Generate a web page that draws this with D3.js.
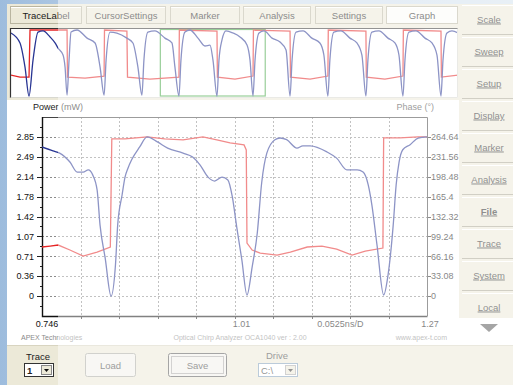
<!DOCTYPE html>
<html><head><meta charset="utf-8">
<script src="https://cdn.jsdelivr.net/npm/d3@7"></script>
<style>
html,body{margin:0;padding:0;overflow:hidden;background:#c5d9ec;}
svg{display:block;font-family:"Liberation Sans",Arial,sans-serif;}
</style></head><body>
<svg id="c" width="513" height="385"></svg>
<script>
// ---------- data ----------
const tabLabels = ["TraceLabel","CursorSettings","Marker","Analysis","Settings","Graph"];
const sideButtons = ["Scale","Sweep","Setup","Display","Marker","Analysis","File","Trace","System","Local"];
const powerTicks = [0,0.36,0.71,1.07,1.42,1.78,2.14,2.49,2.85];
const phaseTicks = ["0","33.08","66.16","99.24","132.32","165.4","198.48","231.56","264.64"];
const timeStart = 0.746, timeEnd = 1.27, timeMid = "1.01", timePerDiv = "0.0525ns/D";
const timeDivisions = 10;

const mainTime = [.746,.761,.770,.784,.794,.802,.809,.815,.821,.825,.832,.840,.846,.849,.855,.859,.863,.868,.879,.889,.903,.917,.938,.951,.961,.972,.981,.991,.999,1.005,1.011,1.018,1.025,1.032,1.039,1.045,1.052,1.063,1.070,1.079,1.093,1.101,1.111,1.134,1.147,1.161,1.175,1.183,1.190,1.195,1.202,1.211,1.217,1.224,1.228,1.232,1.237,1.247,1.258,1.270];
const mainPower = [2.67,2.60,2.56,2.40,2.22,2.22,2.26,2.17,1.90,1.27,0.68,0.00,0.56,1.27,1.81,2.13,2.29,2.44,2.67,2.85,2.76,2.65,2.56,2.49,2.35,2.13,2.06,2.13,2.08,1.78,1.24,0.65,0.02,0.52,1.13,2.03,2.56,2.80,2.83,2.80,2.65,2.69,2.69,2.58,2.47,2.26,2.26,2.22,1.99,1.63,0.91,0.02,0.38,1.27,1.99,2.40,2.62,2.71,2.83,2.85];
const phaseTime = [.746,.757,.768,.784,.802,.821,.839,.841,.859,.889,.913,.938,.965,.984,1.002,1.021,1.024,1.025,1.032,1.043,1.066,1.084,1.107,1.127,1.147,1.168,1.186,1.210,1.211,1.233,1.258,1.270];
const mainPhase = [81.6,83.2,84.9,76.6,66.6,73.2,81.6,261.3,261.3,264.6,261.3,259.6,264.6,259.6,254.7,251.3,243.0,88.2,76.6,71.6,68.2,73.2,81.6,83.2,78.2,68.2,74.9,79.9,263.0,263.0,264.6,264.6];

const ovTimeEnd = 2.233;
const ovTime = [0.000,0.045,0.070,0.090,0.110,0.135,0.160,0.195,0.220,0.235,0.260,0.270,0.280,0.290,0.300,0.330,0.380,0.420,0.445,0.465,0.475,0.495,0.529,0.579,0.609,0.634,0.654,0.664,0.684,0.719,0.769,0.804,0.819,0.839,0.849,0.869,0.894,0.934,0.969,0.994,1.009,1.029,1.039,1.054,1.074,1.109,1.144,1.179,1.194,1.209,1.219,1.239,1.264,1.304,1.344,1.374,1.394,1.404,1.424,1.459,1.503,1.543,1.563,1.583,1.593,1.613,1.648,1.693,1.728,1.753,1.773,1.783,1.803,1.838,1.883,1.918,1.938,1.958,1.968,1.988,2.023,2.068,2.103,2.128,2.148,2.158,2.178,2.203,2.233];
const ovPower = [2.72,2.29,1.25,0.00,1.55,2.76,2.81,2.55,2.29,2.07,1.77,1.25,0.04,1.55,2.76,2.85,2.50,2.29,1.25,0.04,1.55,2.76,2.72,2.50,2.29,1.25,0.04,1.55,2.76,2.81,2.50,2.29,1.25,0.00,1.55,2.76,2.85,2.50,2.16,2.20,1.55,0.00,1.55,2.42,2.81,2.72,2.55,2.20,1.55,0.00,1.55,2.72,2.81,2.50,2.33,1.99,0.00,1.55,2.76,2.81,2.50,2.29,1.77,0.00,1.55,2.76,2.81,2.50,2.29,1.77,0.00,1.55,2.76,2.81,2.50,2.29,1.77,0.00,1.55,2.76,2.81,2.50,2.29,1.77,0.00,1.55,2.72,2.81,2.72];
const ovPhaseTime = [0.000,0.045,0.090,0.095,0.280,0.282,0.370,0.465,0.467,0.579,0.582,0.694,0.839,0.841,1.029,1.031,1.119,1.209,1.211,1.394,1.396,1.494,1.583,1.585,1.773,1.775,1.868,1.958,1.960,2.148,2.150,2.233];
const ovPhase = [84,76,76,264.6,264.6,76,72,80,264.6,260,76,68,76,264.6,260,76,68,80,264.6,260,76,68,80,264.6,260,76,68,80,264.6,260,76,84];

// ---------- drawing ----------
const W = 513, H = 385;
const svg = d3.select("#c");
const defs = svg.append("defs");
const bg = defs.append("linearGradient").attr("id","bg").attr("x1",0).attr("x2",1).attr("y1",0).attr("y2",0);
bg.append("stop").attr("offset","0").attr("stop-color","#9dbcdd");
bg.append("stop").attr("offset","0.3").attr("stop-color","#c3d6ea");
bg.append("stop").attr("offset","1").attr("stop-color","#d4e2ef");
svg.append("rect").attr("width",W).attr("height",H).attr("fill","url(#bg)");

// window body
svg.append("rect").attr("x",7).attr("y",4).attr("width",W-7).attr("height",H-4).attr("fill","#ece9d8");

// tabs
const tabX = [10,86,170,243,315,386], tabW = [72,80,70,68,68,72];
const tabs = svg.append("g").selectAll("g").data(tabLabels).join("g");
tabs.append("rect").attr("x",(d,i)=>tabX[i]+0.5).attr("y",6.5).attr("width",(d,i)=>tabW[i]-1).attr("height",17)
  .attr("fill",(d,i)=> i===5 ? "#fbfbf7" : "#ece9d8").attr("stroke","#b9b5a0");
tabs.append("line").attr("x1",(d,i)=>tabX[i]+1).attr("x2",(d,i)=>tabX[i]+tabW[i]-1).attr("y1",7.5).attr("y2",7.5).attr("stroke","#fff");
tabs.append("text").attr("x",(d,i)=>tabX[i]+tabW[i]/2).attr("y",18.5).attr("text-anchor","middle")
  .attr("font-size",9.5).attr("fill","#1a1a1a").text(d=>d);

// side buttons
const side = svg.append("g").selectAll("g").data(sideButtons).join("g");
side.append("rect").attr("x",462).attr("y",(d,i)=>5+32*i).attr("width",54).attr("height",29).attr("fill","#ece9d8");
side.append("line").attr("x1",462).attr("x2",513).attr("y1",(d,i)=>34.5+32*i).attr("y2",(d,i)=>34.5+32*i).attr("stroke","#a9a592");
side.append("line").attr("x1",462).attr("x2",513).attr("y1",(d,i)=>5.5+32*i).attr("y2",(d,i)=>5.5+32*i).attr("stroke","#ffffff");
side.append("text").attr("x",489).attr("y",(d,i)=>22.5+32*i).attr("text-anchor","middle").attr("font-size",9.5)
  .attr("fill","#2a2a2a").attr("font-weight",d=>d==="File"?"bold":"normal").attr("text-decoration","underline").text(d=>d);

// overview panel
const ov = {x0:10, y0:28, x1:458, y1:98};
svg.append("rect").attr("x",ov.x0).attr("y",ov.y0).attr("width",ov.x1-ov.x0).attr("height",ov.y1-ov.y0).attr("fill","#fff");
const ox = d3.scaleLinear().domain([0,ovTimeEnd]).range([11,458]);
const oyP = d3.scaleLinear().domain([0,2.85]).range([96,30]);
const oyF = d3.scaleLinear().domain([0,264.64]).range([96,30]);
defs.append("clipPath").attr("id","ovclip").append("rect").attr("x",ov.x0+1).attr("y",ov.y0+1).attr("width",ov.x1-ov.x0-1).attr("height",ov.y1-ov.y0-1);
const og = svg.append("g").attr("clip-path","url(#ovclip)");
og.append("rect").attr("x",ox(timeStart)).attr("y",29.5).attr("width",ox(timeEnd)-ox(timeStart)).attr("height",66.5)
  .attr("fill","none").attr("stroke","#3ea33e").attr("stroke-width",1.2);
og.append("path").datum(d3.range(ovPhase.length)).attr("fill","none").attr("stroke","#e52424").attr("stroke-width",1.3)
  .attr("d",d3.line().x(i=>ox(ovPhaseTime[i])).y(i=>oyF(ovPhase[i])));
og.append("path").datum(d3.range(ovPower.length)).attr("fill","none").attr("stroke","#283593").attr("stroke-width",1.3)
  .attr("d",d3.line().curve(d3.curveMonotoneX).x(i=>ox(ovTime[i])).y(i=>oyP(ovPower[i])));
svg.append("path").attr("d",`M${ov.x0+0.5},${ov.y1}V${ov.y0+0.5}H${ov.x1}`).attr("fill","none").attr("stroke","#333").attr("stroke-width",1.2);
svg.append("path").attr("d",`M${ov.x0+0.5},${ov.y1-0.5}H${ov.x1-0.5}V${ov.y0+0.5}`).attr("fill","none").attr("stroke","#d8d8d0");

// main chart panel
svg.append("rect").attr("x",7).attr("y",100).attr("width",452).attr("height",245).attr("fill","#fff");
svg.append("rect").attr("x",459).attr("y",318).attr("width",54).attr("height",27).attr("fill","#fff");
const plot = {l:42, r:427, t:117, b:316};
const x = d3.scaleLinear().domain([timeStart,timeEnd]).range([plot.l,plot.r]);
const step = 2.85/8, pstep = 264.64/8;
const yP = d3.scaleLinear().domain([-step, 2.85+step]).range([plot.b,plot.t]);
const yF = d3.scaleLinear().domain([-pstep, 264.64+pstep]).range([plot.b,plot.t]);

// grid
const grid = svg.append("g").attr("stroke","#8c8c8c").attr("stroke-dasharray","2,2").attr("stroke-width",1);
const divTimes = d3.range(1,timeDivisions).map(k=>timeStart+k*(timeEnd-timeStart)/timeDivisions);
grid.selectAll("line.v").data(divTimes).join("line").attr("x1",d=>Math.round(x(d))+0.5).attr("x2",d=>Math.round(x(d))+0.5)
  .attr("y1",plot.t).attr("y2",plot.b);
grid.selectAll("line.h").data(d3.range(9)).join("line").attr("x1",plot.l).attr("x2",plot.r)
  .attr("y1",i=>Math.round(yP(i*step))+0.5).attr("y2",i=>Math.round(yP(i*step))+0.5);

// axes ticks
const ax = svg.append("g").attr("stroke","#222");
ax.selectAll("line.lt").data(d3.range(9)).join("line").attr("x1",plot.l-5).attr("x2",plot.l)
  .attr("y1",i=>Math.round(yP(i*step))+0.5).attr("y2",i=>Math.round(yP(i*step))+0.5);
ax.selectAll("line.lm").data(d3.range(-1,9)).join("line").attr("x1",plot.l-2).attr("x2",plot.l)
  .attr("y1",i=>Math.round(yP((i+0.5)*step))+0.5).attr("y2",i=>Math.round(yP((i+0.5)*step))+0.5);
ax.selectAll("line.rt").data(d3.range(9)).join("line").attr("x1",plot.r).attr("x2",plot.r+4)
  .attr("y1",i=>Math.round(yF(i*pstep))+0.5).attr("y2",i=>Math.round(yF(i*pstep))+0.5);
ax.selectAll("line.bt").data(divTimes).join("line").attr("x1",d=>Math.round(x(d))+0.5).attr("x2",d=>Math.round(x(d))+0.5)
  .attr("y1",plot.b).attr("y2",plot.b+3);

// frame
svg.append("path").attr("d",`M${plot.l},${plot.t+0.5}H${plot.r+0.5}V${plot.b}`).attr("fill","none").attr("stroke","#444");
svg.append("path").attr("d",`M${plot.l+0.5},${plot.t}V${plot.b+0.5}H${plot.r+0.5}`).attr("fill","none").attr("stroke","#111").attr("stroke-width",1.4);

// traces
defs.append("clipPath").attr("id","pclip").append("rect").attr("x",plot.l).attr("y",plot.t).attr("width",plot.r-plot.l).attr("height",plot.b-plot.t);
const pg = svg.append("g").attr("clip-path","url(#pclip)");
pg.append("path").datum(d3.range(mainPhase.length)).attr("fill","none").attr("stroke","#e52424").attr("stroke-width",1.3)
  .attr("d",d3.line().x(i=>x(phaseTime[i])).y(i=>yF(mainPhase[i])));
pg.append("path").datum(d3.range(mainPower.length)).attr("fill","none").attr("stroke","#283593").attr("stroke-width",1.3)
  .attr("d",d3.line().curve(d3.curveMonotoneX).x(i=>x(mainTime[i])).y(i=>yP(mainPower[i])));

// labels
const lab = svg.append("g").attr("font-size",9).attr("fill","#111");
lab.selectAll("text.l").data(powerTicks).join("text").attr("x",plot.l-8).attr("y",(d,i)=>yP(i*step)+3.2)
  .attr("text-anchor","end").text(d=>String(d));
lab.selectAll("text.r").data(phaseTicks).join("text").attr("x",plot.r+4).attr("y",(d,i)=>yF(i*pstep)+3.2)
  .attr("text-anchor","start").text(d=>d);
lab.append("text").attr("x",x(timeStart)+5).attr("y",327).attr("text-anchor","middle").text(String(timeStart));
lab.append("text").attr("x",x((timeStart+timeEnd)/2)+7).attr("y",327).attr("text-anchor","middle").text(timeMid);
lab.append("text").attr("x",plot.l+(plot.r-plot.l)*0.775).attr("y",327).attr("text-anchor","middle").text(timePerDiv);
lab.append("text").attr("x",x(timeEnd)+3).attr("y",327).attr("text-anchor","middle").text(String(timeEnd));
lab.append("text").attr("x",33).attr("y",110).attr("font-size",9).attr("fill","#222").text("Power (mW)");
lab.append("text").attr("x",434).attr("y",110).attr("font-size",9).attr("fill","#444").attr("text-anchor","end").text("Phase (°)");

const foot = svg.append("g").attr("font-size",7).attr("fill","#8a8a8a");
foot.append("text").attr("x",21).attr("y",340).text("APEX Technologies");
foot.append("text").attr("x",240).attr("y",340).attr("text-anchor","middle").text("Optical Chirp Analyzer OCA1040 ver : 2.00");
foot.append("text").attr("x",447).attr("y",340).attr("text-anchor","end").text("www.apex-t.com");

// right triangle
svg.append("path").attr("d","M480,324L498,324L489,332Z").attr("fill","#555");

// bottom panel
svg.append("rect").attr("x",7).attr("y",345).attr("width",W-7).attr("height",40).attr("fill","#ece9d8");
svg.append("line").attr("x1",7).attr("x2",W).attr("y1",345.5).attr("y2",345.5).attr("stroke","#d8d4c0");
const bp = svg.append("g").attr("font-size",9.5).attr("fill","#222");
bp.append("text").attr("x",38).attr("y",360).attr("text-anchor","middle").text("Trace");
bp.append("rect").attr("x",24.5).attr("y",363.5).attr("width",29).attr("height",13).attr("fill","#fff").attr("stroke","#333");
bp.append("text").attr("x",27).attr("y",373.5).attr("font-weight","bold").text("1");
bp.append("rect").attr("x",41.5).attr("y",365.5).attr("width",10).attr("height",9).attr("fill","#ece9d8").attr("stroke","#888");
bp.append("path").attr("d","M44,369L49,369L46.5,372Z").attr("fill","#111");
bp.append("rect").attr("x",85.5).attr("y",353.5).attr("width",50).attr("height",23).attr("rx",2).attr("fill","#f1f0ea").attr("stroke","#a8a8a0");
bp.append("text").attr("x",110.5).attr("y",368.5).attr("text-anchor","middle").attr("fill","#444").text("Load");
bp.append("rect").attr("x",168.5).attr("y",353.5).attr("width",58).attr("height",23).attr("rx",2).attr("fill","#f1f0ea").attr("stroke","#555");
bp.append("rect").attr("x",171.5).attr("y",356.5).attr("width",52).attr("height",17).attr("fill","none").attr("stroke","#666").attr("stroke-dasharray","1,1");
bp.append("text").attr("x",197.5).attr("y",368.5).attr("text-anchor","middle").attr("fill","#444").text("Save");
bp.append("text").attr("x",277).attr("y",359).attr("text-anchor","middle").attr("fill","#444").text("Drive");
bp.append("rect").attr("x",258.5).attr("y",363.5).attr("width",39).attr("height",13).attr("fill","#fff").attr("stroke","#7f9db9");
bp.append("text").attr("x",261).attr("y",373.5).attr("fill","#333").text("C:\\");
bp.append("rect").attr("x",285.5).attr("y",365.5).attr("width",10).attr("height",9).attr("fill","#ece9d8").attr("stroke","#aaa");
bp.append("path").attr("d","M288,369L293,369L290.5,372Z").attr("fill","#333");

// washed-out overlay on right portion
svg.append("rect").attr("x",58).attr("y",0).attr("width",W-58).attr("height",H).attr("fill","#fff").attr("opacity",0.47);
</script>
</body></html>
